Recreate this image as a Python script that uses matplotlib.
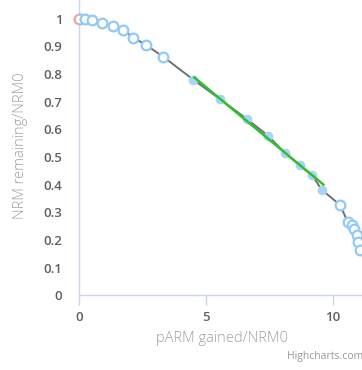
import matplotlib
matplotlib.use("Agg")
import matplotlib.pyplot as plt

plt.rcParams['font.family'] = ['Open Sans', 'DejaVu Sans']

# Data
start_x = [0.0]
start_y = [1.0]
early_x = [0.04, 0.24, 0.5, 0.89, 1.33, 1.75, 2.14, 2.63, 3.32]
early_y = [0.997, 0.997, 0.994, 0.985, 0.973, 0.958, 0.931, 0.905, 0.862]
sel_x = [4.51, 5.56, 6.62, 7.45, 8.13, 8.72, 9.20, 9.57]
sel_y = [0.779, 0.709, 0.637, 0.577, 0.513, 0.469, 0.433, 0.382]
late_x = [10.30, 10.60, 10.76, 10.86, 10.95, 10.99, 11.08]
late_y = [0.326, 0.265, 0.253, 0.238, 0.218, 0.194, 0.164]
fit_x = [4.55, 9.64]
fit_y = [0.787, 0.400]
y_ticks = [0, 0.1, 0.2, 0.3, 0.4, 0.5, 0.6, 0.7, 0.8, 0.9, 1]
y_ticklabels = ['0', '0.1', '0.2', '0.3', '0.4', '0.5', '0.6', '0.7', '0.8', '0.9', '1']
x_ticks = [0, 5, 10]
x_ticklabels = ['0', '5', '10']

W, H = 362, 370
fig = plt.figure(figsize=(W / 100, H / 100), dpi=100)
x0px, x1px = 79, 365
ytop_px, y0px = 0, 295.3
ax = fig.add_axes([x0px / W, (H - y0px) / H, (x1px - x0px) / W, (y0px - ytop_px) / H])

all_x = start_x + early_x + sel_x + late_x
all_y = start_y + early_y + sel_y + late_y
ax.plot(all_x, all_y, color='#707070', lw=1.4, zorder=2)
ax.plot(start_x, start_y, 'o', ms=7, mfc='white', mec='#f4a0a8', mew=1.6, zorder=3, clip_on=False)
ax.plot(early_x + late_x, early_y + late_y, 'o', ls='none', ms=7, mfc='white',
        mec='#92c9f6', mew=1.6, zorder=4, clip_on=True)
ax.plot(sel_x, sel_y, 'o', ls='none', ms=7, mfc='#a9d4f8', mec='#a9d4f8', mew=0, zorder=4)
ax.plot(fit_x, fit_y, color='#2fbf2f', lw=1.8, zorder=5)

ax.set_xlim(0, (x1px - x0px) / 25.35)
ax.set_ylim(0, (y0px - ytop_px) / 276.8)

for s in ['top', 'right']:
    ax.spines[s].set_visible(False)
for s in ['left', 'bottom']:
    ax.spines[s].set_color('#ccd6eb')
    ax.spines[s].set_linewidth(1.0)

ax.set_yticks(y_ticks)
ax.set_yticklabels(y_ticklabels)
ax.set_xticks(x_ticks)
ax.set_xticklabels(x_ticklabels)
ax.tick_params(axis='y', length=0, pad=12, labelsize=9.5, labelcolor='#606060')
ax.tick_params(axis='x', length=7, width=1, color='#ccd6eb', pad=4, labelsize=9.5, labelcolor='#606060')
for lab in ax.get_xticklabels() + ax.get_yticklabels():
    lab.set_fontweight('semibold')

fig.text(222 / W, 1 - 338 / H, 'pARM gained/NRM0', ha='center', va='center',
         fontsize=10.5, color='#a0a0a0', fontweight='light')
fig.text(21 / W, 1 - 146 / H, 'NRM remaining/NRM0', ha='center', va='center', rotation=90,
         fontsize=10.5, color='#a0a0a0', fontweight='light')
fig.text(363 / W, 1 - 357 / H, 'Highcharts.com', ha='right', va='center',
         fontsize=7.5, color='#999999')

fig.savefig('out.png', dpi=100)
